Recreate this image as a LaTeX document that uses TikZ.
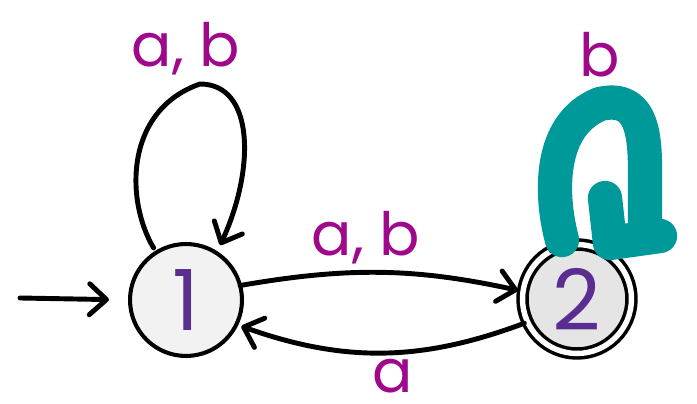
\documentclass[tikz,border=0pt]{standalone}
\usepackage{fontspec}
\setmainfont{Poppins}
\usetikzlibrary{arrows.meta}
\definecolor{labpink}{RGB}{160,8,140}
\definecolor{statepurple}{RGB}{90,45,145}
\definecolor{loopteal}{RGB}{0,153,153}
\tikzset{
  state/.style={circle, draw=black, line width=2.3pt, fill=black!5, minimum size=2.24cm, inner sep=0pt, outer sep=0pt, text=statepurple, font=\fontsize{48}{52}\selectfont},
  accept/.style={state, fill=black!10, minimum size=2.18cm, line width=2pt, double=white, double distance=3.1pt},
  wire/.style={line width=2.8pt, draw=black, line cap=round, line join=round},
  wirearrow/.style={wire, -{Straight Barb[length=3.4mm, width=6.2mm, line cap=round, line join=round]}},
  lab/.style={text=labpink, font=\fontsize{34}{40}\selectfont, inner sep=0pt, outer sep=0pt},
  scribble/.style={line width=19.5pt, draw=loopteal, line cap=round, line join=round},
}

\begin{document}
\begin{tikzpicture}[x=0.02cm, y=-0.02cm]
\useasboundingbox (0,0) rectangle (697,404);
\node[state] (s1) at (186,300) {1};
\node[accept] (s2) at (577,299) {2};
\coordinate (start) at (20,298);
\draw[wirearrow, shorten >=12pt] (start) -- (s1.west);
% loop on 1
\draw[wirearrow, shorten <=3pt, shorten >=5pt] (s1.122) .. controls (125,200) and (125,110) .. (200,84)
  node[lab, above=5pt, xshift=-8pt] (ab11) {a, b}
  .. controls (255,84) and (255,170) .. (s1.57);
% between the states
\draw[wirearrow, shorten >=3pt] (s1.15) to[bend left=11] node[lab, above=5pt, xshift=-9pt] (ab12) {a, b} (s2.172);
\draw[wirearrow, shorten <=2pt, shorten >=3pt] (s2.205) to[bend left=20] node[lab, below=4pt, xshift=6pt] (a21) {a} (s1.334);
% loop on 2, scribbled over
\draw[wire] (s2.118) .. controls (535,180) and (540,105) .. (600,100)
  node[lab, above=13pt] (b22) {b}
  .. controls (645,100) and (645,130) .. (645,170) -- (645,225) -- (s2.62);
\draw[scribble] (562,240) .. controls (550,195) and (548,125) .. (600,104) .. controls (640,95) and (645,130) .. (645,170) -- (645,225);
\draw[scribble] (605,198) -- (610,243) -- (660,236);
\end{tikzpicture}
\end{document}
